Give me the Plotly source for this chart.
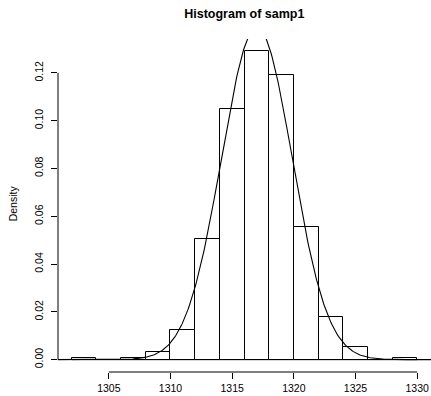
import numpy as np
import plotly.graph_objects as go

# Histogram bins (break points) and densities
breaks = [1302, 1304, 1306, 1308, 1310, 1312, 1314, 1316, 1318, 1320, 1322, 1324, 1326, 1328, 1330]
density = [0.0005, 0.0, 0.0005, 0.0033, 0.0124, 0.0505, 0.105, 0.129, 0.1189, 0.0553, 0.0178, 0.0053, 0.0, 0.0005]

# Overlaid normal density curve parameters
curve_mean = 1317.0
curve_sd = 2.87

x_ticks = [1305, 1310, 1315, 1320, 1325, 1330]
y_ticks = [0.00, 0.02, 0.04, 0.06, 0.08, 0.10, 0.12]
y_ticklabels = ["0.00", "0.02", "0.04", "0.06", "0.08", "0.10", "0.12"]

title_text = "Histogram of samp1"
y_title = "Density"

FONT = "Liberation Sans, Arial, Helvetica, sans-serif"

mids = [(a + b) / 2 for a, b in zip(breaks[:-1], breaks[1:])]
widths = [b - a for a, b in zip(breaks[:-1], breaks[1:])]

xr = [breaks[0] - 0.04 * (breaks[-1] - breaks[0]), breaks[-1] + 0.04 * (breaks[-1] - breaks[0])]
ymax = max(density)
yr = [-0.04 * ymax, ymax * 1.04]

xs = np.linspace(xr[0], xr[1], 400)
ys = np.exp(-0.5 * ((xs - curve_mean) / curve_sd) ** 2) / (curve_sd * np.sqrt(2 * np.pi))

fig = go.Figure()
fig.add_trace(go.Bar(
    x=mids, y=density, width=widths,
    marker=dict(color="white", line=dict(color="black", width=1)),
    showlegend=False, hoverinfo="skip",
))
fig.add_trace(go.Scatter(
    x=xs, y=ys, mode="lines",
    line=dict(color="black", width=1.1),
    showlegend=False, hoverinfo="skip",
))

shapes = [
    # baseline of bars
    dict(type="line", xref="x", yref="y", x0=breaks[0], x1=breaks[-1], y0=0, y1=0,
         line=dict(color="black", width=1), layer="below"),
    # x axis line
    dict(type="line", xref="x", yref="paper", x0=x_ticks[0], x1=x_ticks[-1], y0=0, y1=0,
         line=dict(color="black", width=1)),
    # y axis line
    dict(type="line", xref="paper", yref="y", x0=0, x1=0, y0=y_ticks[0], y1=y_ticks[-1],
         line=dict(color="black", width=1)),
]

fig.update_layout(
    width=431, height=396,
    margin=dict(l=58, r=0, t=39, b=24, pad=0),
    paper_bgcolor="white", plot_bgcolor="white",
    font=dict(family=FONT, color="black", size=10.5),
    bargap=0,
    shapes=shapes,
    title=dict(text="<b>" + title_text + "</b>", x=244.3 / 431, xanchor="center",
               y=1 - 13.3 / 396, yanchor="middle",
               font=dict(family=FONT, size=12.5, color="black")),
    annotations=[dict(text=y_title, xref="paper", yref="paper",
                      x=(13 - 58) / 373, y=0.5066, xanchor="center", yanchor="middle",
                      textangle=-90, showarrow=False,
                      font=dict(family=FONT, size=10.5, color="black"))],
    xaxis=dict(range=xr, tickvals=x_ticks, ticktext=[str(t) for t in x_ticks],
               ticks="outside", ticklen=6, tickwidth=1, tickcolor="black",
               showline=False, showgrid=False, zeroline=False,
               tickfont=dict(size=10.5, family=FONT, color="black")),
    yaxis=dict(range=yr, tickvals=y_ticks, ticktext=y_ticklabels,
               ticks="outside", ticklen=6, tickwidth=1, tickcolor="black",
               tickangle=-90, ticklabelstandoff=4,
               showline=False, showgrid=False, zeroline=False,
               tickfont=dict(size=10.5, family=FONT, color="black")),
)

fig.write_html("out.html")
